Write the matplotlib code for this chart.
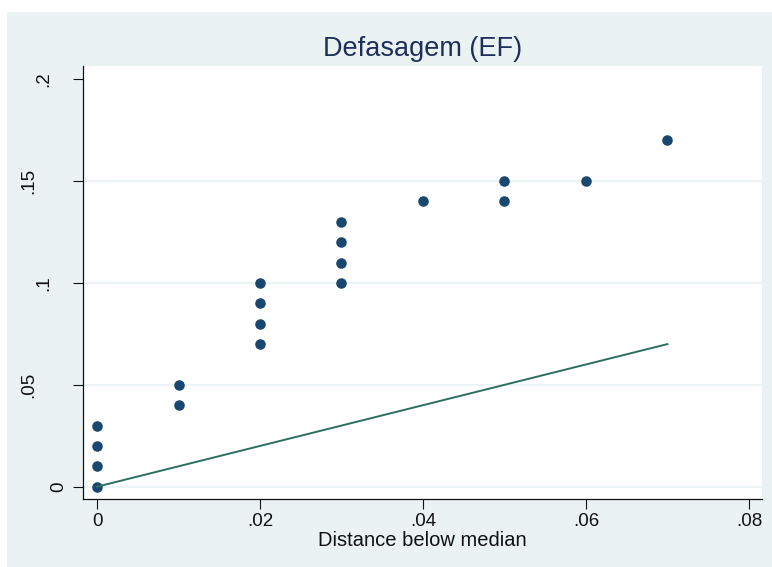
import matplotlib.pyplot as plt
import matplotlib.transforms as mtransforms
from matplotlib.patches import Rectangle

# data
dist_x = [0, 0, 0, 0, .01, .01, .02, .02, .02, .02, .03, .03, .03, .03,
          .04, .05, .05, .06, .07]
defas_y = [0, .01, .02, .03, .04, .05, .07, .08, .09, .10, .10, .11, .12, .13,
           .14, .14, .15, .15, .17]
line_x = [0, .07]
line_y = [0, .07]

xticks = [0, .02, .04, .06, .08]
xtick_labels = ['0', '.02', '.04', '.06', '.08']
yticks = [0, .05, .1, .15, .2]
ytick_labels = ['0', '.05', '.1', '.15', '.2']

plt.rcParams['font.family'] = ['Liberation Sans', 'DejaVu Sans']

fig = plt.figure(figsize=(7.72, 5.67), dpi=100, facecolor='white')
# Stata-like outer panel
fig.patches.append(Rectangle((7 / 772, 0), 1, (567 - 12) / 567,
                             transform=fig.transFigure, facecolor='#EAF2F3',
                             edgecolor='none', zorder=-10))

ax = fig.add_axes([83 / 772, (567 - 499) / 567, (762 - 83) / 772, (499 - 66) / 567])
ax.set_zorder(1)
ax.set_facecolor('white')

# grid (none at the top tick, like Stata)
for v in yticks[:-1]:
    ax.axhline(v, color='#EAF2F3', linewidth=1.2, zorder=1)

ax.plot(dist_x, defas_y, 'o', color='#1A476F', markersize=7.6,
        markeredgewidth=0, zorder=3)
ax.plot(line_x, line_y, color='#2E6F63', linewidth=1.4, zorder=4)

ax.set_xlim(-0.00172, 0.0816)
ax.set_ylim(-0.00604, 0.2065)

for s in ['top', 'right']:
    ax.spines[s].set_visible(False)
for s in ['left', 'bottom']:
    ax.spines[s].set_linewidth(0.9)
    ax.spines[s].set_color('#111111')

ax.set_xticks(xticks)
ax.set_xticklabels(xtick_labels)
ax.tick_params(axis='x', length=7, width=0.8, pad=3, labelsize=13.5, colors='#111111')
ax.set_yticks(yticks)
ax.set_yticklabels([])
ax.tick_params(axis='y', length=7, width=0.8, colors='#111111')

# rotated y labels, placed the way Stata shifts them by string length
ytrans = mtransforms.blended_transform_factory(ax.transAxes, ax.transData)
for v, lab in zip(yticks, ytick_labels):
    dx = (16 + 15 * (len(lab) - 1)) / 100
    off = mtransforms.ScaledTranslation(-dx, 0, fig.dpi_scale_trans)
    ax.text(0, v, lab, transform=ytrans + off, rotation=90, ha='right',
            va='center', fontsize=13.5, color='#111111')

ax.set_xlabel('Distance below median', fontsize=14.5, color='#111111', labelpad=1)
ax.set_title('Defasagem (EF)', fontsize=19.5, color='#1E2F5A', pad=7)

fig.savefig('out.png', dpi=100, facecolor=fig.get_facecolor())
